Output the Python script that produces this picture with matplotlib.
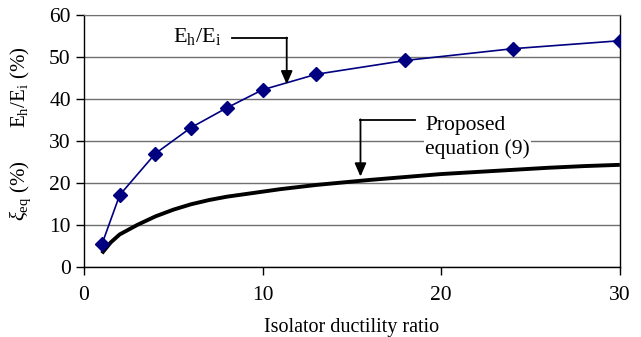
import matplotlib
matplotlib.use("Agg")
import matplotlib.pyplot as plt

plt.rcParams['font.family'] = ['Liberation Serif', 'DejaVu Serif']
plt.rcParams['mathtext.fontset'] = 'custom'
plt.rcParams['mathtext.rm'] = 'Liberation Serif'
plt.rcParams['mathtext.it'] = 'Liberation Serif:italic'

# Data
ductility_eh = [1, 2, 4, 6, 8, 10, 13, 18, 24, 30]
eh_ei = [5.3, 17.1, 27.0, 33.2, 37.9, 42.2, 45.9, 49.2, 52.0, 53.9]

ductility_xi = [1, 1.5, 2, 3, 4, 5, 6, 7, 8, 9, 10, 11, 12, 13, 14, 15, 16,
                18, 20, 22, 24, 26, 28, 30]
xi_eq = [3.2, 5.8, 7.7, 10.0, 12.0, 13.6, 14.9, 15.9, 16.7, 17.3, 17.9, 18.5,
         19.0, 19.5, 19.9, 20.3, 20.7, 21.4, 22.1, 22.6, 23.1, 23.6, 24.0, 24.3]

xticks = [0, 10, 20, 30]
yticks = [0, 10, 20, 30, 40, 50, 60]

fig = plt.figure(figsize=(6.41, 3.37), dpi=100)
ax = fig.add_axes([0.131, 0.2086, 0.836, 0.7464])

ax.plot(ductility_xi, xi_eq, color='black', lw=2.8, solid_capstyle='butt', zorder=3)
ax.plot(ductility_eh, eh_ei, color='#000080', lw=1.2, marker='D', markersize=7,
        markerfacecolor='#000080', markeredgecolor='#000080', zorder=4)

ax.set_xlim(0, 30)
ax.set_ylim(0, 60)
ax.set_xticks(xticks)
ax.set_yticks(yticks)
ax.tick_params(direction='out', length=6, width=1, labelsize=15.5, color='black')
ax.tick_params(axis='x', pad=8)
ax.yaxis.grid(True, color='#707070', lw=1)
ax.set_axisbelow(True)
for s in ['left', 'bottom', 'right']:
    ax.spines[s].set_color('black')
    ax.spines[s].set_linewidth(1)
ax.spines['top'].set_color('#707070')

ax.set_xlabel('Isolator ductility ratio', fontsize=14.5, labelpad=9)

fig.text(0.032, 0.742, r'E$_\mathrm{h}$/E$_\mathrm{i}$ (%)', rotation=90,
         ha='center', va='center', fontsize=15)
fig.text(0.032, 0.433, r'$\xi_\mathrm{eq}$ (%)', rotation=90,
         ha='center', va='center', fontsize=15)

arrow_props = dict(arrowstyle='-|>,head_length=0.8,head_width=0.35',
                   color='black', lw=1.3, shrinkA=0, shrinkB=0)

# Annotation E_h/E_i
ax.text(5.0, 54.8, r'E$_\mathrm{h}$/E$_\mathrm{i}$', fontsize=16, ha='left', va='center',
        zorder=5)
ax.plot([8.3, 11.35], [54.6, 54.6], color='black', lw=1.3, zorder=5)
ax.annotate('', xy=(11.35, 43.5), xytext=(11.35, 54.65),
            arrowprops=arrow_props, zorder=5)

# Annotation Proposed equation (9)
ax.text(19.1, 30.9, 'Proposed\nequation (9)', fontsize=15.5, ha='left', va='center',
        linespacing=1.3, zorder=5,
        bbox=dict(facecolor='white', edgecolor='none', pad=1))
ax.plot([15.48, 18.55], [35.1, 35.1], color='black', lw=1.3, zorder=5)
ax.annotate('', xy=(15.48, 21.5), xytext=(15.48, 35.15),
            arrowprops=arrow_props, zorder=5)

fig.savefig('out.png', dpi=100)
